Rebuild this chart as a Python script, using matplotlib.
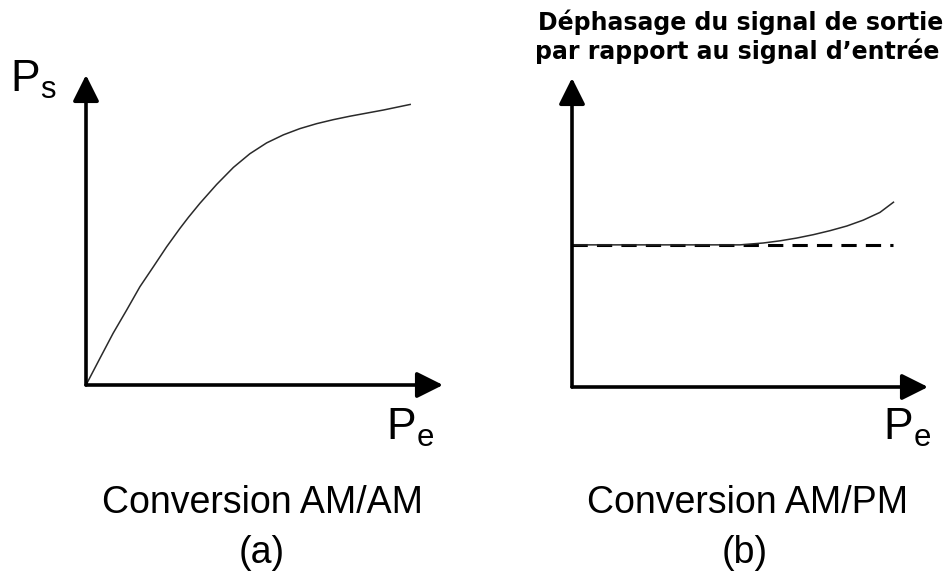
import numpy as np
import matplotlib
matplotlib.use('Agg')
import matplotlib.pyplot as plt

plt.rcParams['font.family'] = ['Liberation Sans', 'DejaVu Sans']

# (a) conversion AM/AM : Ps vs Pe (0..10 scale)
am_pe = [0, 0.39, 0.76, 1.14, 1.51, 1.89, 2.26, 2.63, 2.87, 3.19, 3.66,
         4.13, 4.59, 5.06, 5.53, 5.99, 6.46, 6.93, 7.39, 7.86, 8.33, 9.08]
am_ps = [0, 0.86, 1.67, 2.42, 3.17, 3.82, 4.46, 5.05, 5.41, 5.86, 6.47,
         7.02, 7.46, 7.81, 8.07, 8.27, 8.43, 8.56, 8.67, 8.77, 8.87, 9.05]

# (b) conversion AM/PM : phase shift vs Pe
pm_pe = [0, 4.72, 5.37, 5.84, 6.31, 6.78, 7.25, 7.72, 8.18, 8.65, 9.03]
pm_phase = [4.60, 4.60, 4.66, 4.73, 4.82, 4.93, 5.06, 5.21, 5.40, 5.65, 5.98]
ref_pe = [0, 9.02]
ref_phase = [4.60, 4.60]

W, H = 951, 576
fig = plt.figure(figsize=(W / 100, H / 100), dpi=100)


def px_axes(x0, y0, x1, y1):
    # axes from pixel origin (x0, y0) to arrow tips (x1, y1)
    ax = fig.add_axes([x0 / W, 1 - y0 / H, (x1 - x0) / W, (y0 - y1) / H])
    ax.set_xlim(0, 10)
    ax.set_ylim(0, 10)
    ax.axis('off')
    arrow = dict(arrowstyle='-|>', lw=2.6, color='k', mutation_scale=40,
                 shrinkA=0, shrinkB=0)
    ax.annotate('', xy=(10, 0), xytext=(0, 0), arrowprops=arrow,
                annotation_clip=False)
    ax.annotate('', xy=(0, 10), xytext=(0, 0), arrowprops=arrow,
                annotation_clip=False)
    return ax


ax1 = px_axes(86, 385, 443, 75)
ax1.plot(am_pe, am_ps, color='#2a2a2a', lw=1.1, clip_on=False,
         solid_joinstyle='round')

ax2 = px_axes(572, 387, 928, 78)
ax2.plot(ref_pe, ref_phase, color='k', lw=2.2, ls=(0, (5, 3)), clip_on=False)
ax2.plot(pm_pe, pm_phase, color='#2a2a2a', lw=1.1, clip_on=False,
         solid_joinstyle='round')


def ftext(x, y, s, **kw):
    fig.text(x / W, 1 - y / H, s, **kw)


ftext(10, 92, r'$\mathregular{P_s}$', fontsize=32, va='baseline', ha='left')
ftext(386, 440, r'$\mathregular{P_e}$', fontsize=32, va='baseline', ha='left')
ftext(883, 440, r'$\mathregular{P_e}$', fontsize=32, va='baseline', ha='left')

ftext(262, 513, 'Conversion AM/AM', fontsize=27, ha='center', va='baseline')
ftext(262, 563, '(a)', fontsize=27, ha='center', va='baseline')
ftext(748, 513, 'Conversion AM/PM', fontsize=27, ha='center', va='baseline')
ftext(745, 563, '(b)', fontsize=27, ha='center', va='baseline')

ftext(741, 30, 'Déphasage du signal de sortie', fontsize=17,
      fontweight='bold', family='DejaVu Sans', ha='center', va='baseline')
ftext(737, 59, 'par rapport au signal d\u2019entrée', fontsize=17,
      fontweight='bold', family='DejaVu Sans', ha='center', va='baseline')

fig.savefig('out.png', dpi=100)
